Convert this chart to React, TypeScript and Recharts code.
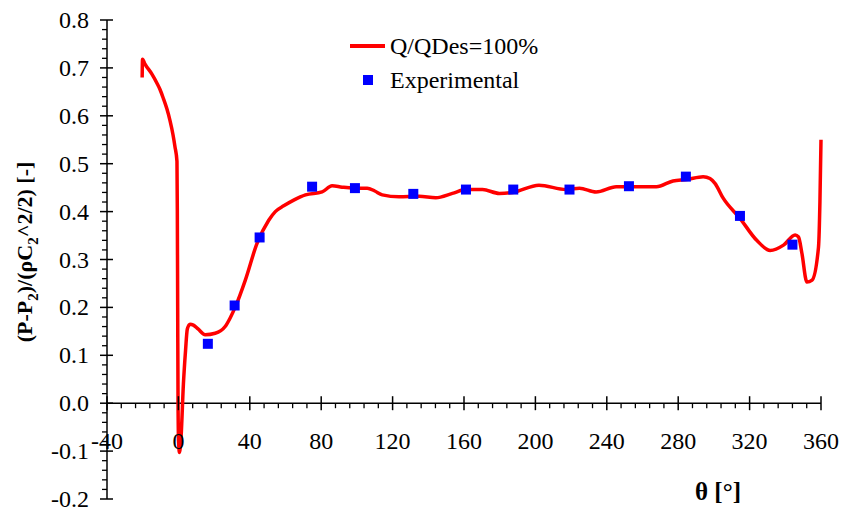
import React from "react";
import {
  ComposedChart,
  Legend,
  Line,
  ReferenceDot,
  ReferenceLine,
  Scatter,
  XAxis,
  YAxis,
} from "recharts";

// CFD curve, Q/QDes = 100%
const curveTheta = [
  -20.3, -20.1, -18.7, -15, -12, -10.3, -8.4, -6.5, -4.7, -3, -1.9, -0.8, -0.6,
  -0.4, -0.2, 0.1, 0.6, 1.5, 2.8, 4, 5, 6.5, 8.4, 11, 15, 20.6, 26.2, 29, 31.9,
  37.5, 44, 50.6, 54.3, 59, 64.6, 71.2, 80.5, 86.1, 91.7, 98, 105.8, 110, 114.2,
  123.6, 134.8, 144.2, 153.5, 161, 170.4, 179.8, 187.3, 202, 217.2, 224.7, 234,
  245.3, 258.4, 267.8, 277.1, 284.7, 294, 297.8, 300.6, 305.2, 314.6, 324,
  331.5, 339, 345.5, 347.4, 349.3, 352.1, 355, 358.6, 359.4, 360,
];
const curveCp = [
  0.68, 0.718, 0.708, 0.688, 0.668, 0.655, 0.636, 0.615, 0.59, 0.56, 0.535,
  0.505, 0.4, 0.2, 0.0, -0.08, -0.103, -0.07, 0.04, 0.11, 0.155, 0.165, 0.163,
  0.155, 0.143, 0.146, 0.16, 0.178, 0.201, 0.257, 0.333, 0.382, 0.4, 0.412,
  0.424, 0.435, 0.441, 0.454, 0.451, 0.449, 0.449, 0.443, 0.435, 0.431, 0.432,
  0.429, 0.438, 0.446, 0.446, 0.438, 0.44, 0.455, 0.446, 0.449, 0.441, 0.452,
  0.452, 0.452, 0.464, 0.467, 0.473, 0.469, 0.459, 0.428, 0.386, 0.34, 0.319,
  0.33, 0.351, 0.347, 0.313, 0.253, 0.257, 0.326, 0.42, 0.55,
];

// experimental points
const expTheta = [16.5, 31.5, 45.5, 74.9, 98.9, 131.6, 161.1, 187.6, 219.1, 252.4, 284.3, 314.6, 344];
const expCp = [0.124, 0.204, 0.346, 0.452, 0.449, 0.437, 0.446, 0.446, 0.446, 0.453, 0.473, 0.391, 0.331];

const xMajorTicks = [-40, 0, 40, 80, 120, 160, 200, 240, 280, 320, 360];
const xMinorSteps = [8, 16, 24, 32];
const yMajorTicks = [-0.2, -0.1, 0, 0.1, 0.2, 0.3, 0.4, 0.5, 0.6, 0.7, 0.8];
const yMinorSteps = [0.02, 0.04, 0.06, 0.08];

const curveData = curveTheta.map((theta, i) => ({ theta, cp: curveCp[i] }));
const expData = expTheta.map((theta, i) => ({ theta, cp: expCp[i] }));
const xMinorTicks = xMajorTicks.slice(0, -1).flatMap((t) => xMinorSteps.map((d) => t + d));
const yMinorTicks = yMajorTicks
  .slice(0, -1)
  .flatMap((t) => yMinorSteps.map((d) => Math.round((t + d) * 100) / 100));
const yAllTicks = [...yMajorTicks, ...yMinorTicks].sort((a, b) => a - b);

const FONT = '"Liberation Serif", "Times New Roman", serif';
const AXIS = "#000";
const TICK_FS = 24;

function YTick(props: any) {
  const { x, y, payload } = props;
  const v = payload.value as number;
  const major = yMajorTicks.some((t) => Math.abs(t - v) < 1e-6);
  if (!major) {
    return <line x1={x - 5} x2={x} y1={y} y2={y} stroke={AXIS} strokeWidth={1.3} />;
  }
  return (
    <g>
      <line x1={x - 7} x2={x + 6} y1={y} y2={y} stroke={AXIS} strokeWidth={1.5} />
      <text
        x={x - 18}
        y={y}
        textAnchor="end"
        dominantBaseline="central"
        fontFamily={FONT}
        fontSize={TICK_FS}
        fill="#000"
      >
        {v.toFixed(1)}
      </text>
    </g>
  );
}

function XMajorMark({ cx, cy, label }: { cx: number; cy: number; label: number }) {
  return (
    <g>
      <line x1={cx} x2={cx} y1={cy - 7} y2={cy + 7} stroke={AXIS} strokeWidth={1.5} />
      <text
        x={cx}
        y={cy + 38}
        textAnchor="middle"
        dominantBaseline="central"
        fontFamily={FONT}
        fontSize={TICK_FS}
        fill="#000"
      >
        {label}
      </text>
    </g>
  );
}

function XMinorMark({ cx, cy }: { cx: number; cy: number }) {
  return <line x1={cx} x2={cx} y1={cy} y2={cy + 5} stroke={AXIS} strokeWidth={1.3} />;
}

function Square(props: any) {
  const { cx, cy } = props;
  return <rect x={cx - 5} y={cy - 5} width={10} height={10} fill="#0000ff" />;
}

function LegendBox() {
  return (
    <div style={{ fontFamily: FONT, fontSize: 24, color: "#000", lineHeight: "34px" }}>
      <div style={{ display: "flex", alignItems: "center" }}>
        <span style={{ display: "inline-block", width: 35, height: 4, background: "#ff0000", marginRight: 5 }} />
        <span>Q/QDes=100%</span>
      </div>
      <div style={{ display: "flex", alignItems: "center" }}>
        <span style={{ display: "inline-block", width: 10, height: 10, background: "#0000ff", margin: "0 17px 0 13px" }} />
        <span>Experimental</span>
      </div>
    </div>
  );
}

export default function App() {
  return (
    <div style={{ position: "absolute", left: 0, top: 0, width: 843, height: 510, background: "#fff" }}>
      <ComposedChart
        width={843}
        height={510}
        margin={{ top: 20, right: 22, bottom: 11, left: 0 }}
      >
        <XAxis type="number" dataKey="theta" domain={[-40, 360]} hide />
        <YAxis
          type="number"
          domain={[-0.2, 0.8]}
          ticks={yAllTicks}
          interval={0}
          width={107}
          tickSize={0}
          tickMargin={0}
          tickLine={false}
          tick={<YTick />}
          axisLine={{ stroke: AXIS, strokeWidth: 1.5 }}
        />
        <ReferenceLine y={0} stroke={AXIS} strokeWidth={1.5} />
        {xMinorTicks.map((t) => (
          <ReferenceDot
            key={`m${t}`}
            x={t}
            y={0}
            r={0}
            ifOverflow="visible"
            shape={(p: any) => <XMinorMark cx={p.cx} cy={p.cy} />}
          />
        ))}
        {xMajorTicks.map((t) => (
          <ReferenceDot
            key={`M${t}`}
            x={t}
            y={0}
            r={0}
            ifOverflow="visible"
            shape={(p: any) => <XMajorMark cx={p.cx} cy={p.cy} label={t} />}
          />
        ))}
        <Line
          data={curveData}
          dataKey="cp"
          type="monotone"
          stroke="#ff0000"
          strokeWidth={3.5}
          dot={false}
          isAnimationActive={false}
          name="Q/QDes=100%"
        />
        <Scatter
          data={expData}
          dataKey="cp"
          shape={<Square />}
          fill="#0000ff"
          isAnimationActive={false}
          name="Experimental"
        />
        <Legend
          layout="vertical"
          align="center"
          verticalAlign="middle"
          content={() => <LegendBox />}
          wrapperStyle={{ left: 350, top: 29, width: 240 }}
        />
      </ComposedChart>
      <div
        style={{
          position: "absolute",
          left: 27,
          top: 252,
          transform: "translate(-50%, -50%) rotate(-90deg)",
          whiteSpace: "nowrap",
          fontFamily: FONT,
          fontWeight: "bold",
          fontSize: 22,
          color: "#000",
        }}
      >
        (P-P<sub style={{ fontSize: 15 }}>2</sub>)/(ρC<sub style={{ fontSize: 15 }}>2</sub>^2/2) [-]
      </div>
      <div
        style={{
          position: "absolute",
          left: 718,
          top: 492,
          transform: "translate(-50%, -50%)",
          whiteSpace: "nowrap",
          fontFamily: FONT,
          fontWeight: "bold",
          fontSize: 25,
          color: "#000",
        }}
      >
        θ [°]
      </div>
    </div>
  );
}
